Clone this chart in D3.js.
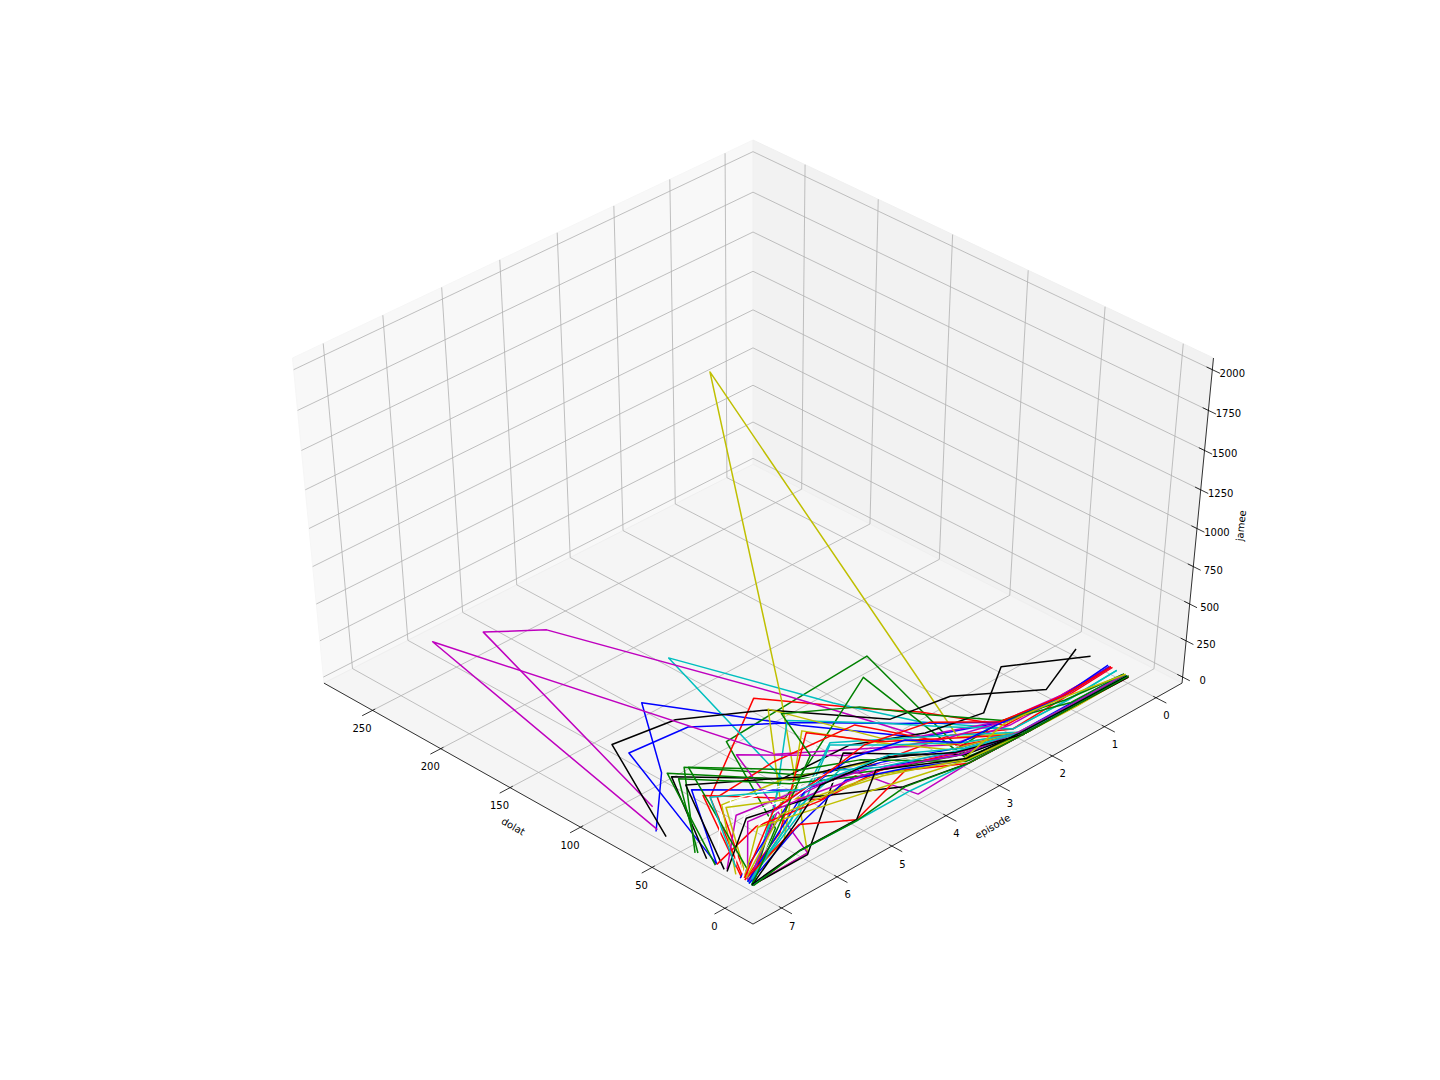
<!DOCTYPE html>
<html><head><meta charset="utf-8"><style>html,body{margin:0;background:#fff}svg{display:block}text{font-family:"DejaVu Sans";font-size:10px;fill:#000}</style>
<script src="https://cdn.jsdelivr.net/npm/d3@7"></script></head><body><svg id="c" width="1440" height="1080"></svg>
<script>
const episodeTicks=[0,1,2,3,4,5,6,7];
const dolatTicks=[0,50,100,150,200,250];
const jameeTicks=[0,250,500,750,1000,1250,1500,1750,2000];
const seriesColorKeys="bgrcmykwbgrcmykwbgrcmykwbgrcmykwbgrcmykwbgrcmykgrcykg".split("");
const dolatSeries=[
[13,10,15,35,81,155,102,67],[2,1,1,3,37,95,23,1],[12,11,13,36,41,76,68,7],[8,6,8,36,59,135,19,1],[13,11,15,35,91,223,228,69],[1,1,3,10,143,57,1,1],[36,21,51,56,104,131,137,60],[0,1,3,8,26,33,10,3],
[14,11,13,50,81,122,125,25],[2,1,1,2,39,44,24,1],[11,8,8,15,33,29,73,8],[8,7,8,19,27,53,24,3],[12,10,10,15,27,61,267,66],[1,1,3,15,27,66,17,3],[26,52,28,32,47,56,95,32],[1,2,3,11,26,50,60,25],
[4,4,4,11,26,42,81,25],[3,4,15,15,26,44,86,40],[0,0,1,8,44,63,63,5],[3,3,4,9,13,24,13,4],[12,10,15,18,50,88,1,1],[1,2,4,15,27,43,17,4],[0,1,2,5,13,15,1,1],[1,1,3,8,26,37,44,13],
[1,1,3,8,19,24,13,9],[2,3,3,11,30,51,98,26],[0,1,1,12,27,40,20,6],[1,2,3,5,20,24,7,3],[1,1,1,2,0,10,20,3],[2,2,3,11,26,56,60,12],[1,2,3,8,26,44,85,20],[1,2,3,8,23,41,54,6],
[13,11,16,8,10,10,3,4],[2,2,2,6,26,51,90,38],[1,1,3,8,26,30,36,25],[0,1,1,2,5,5,6,1],[1,2,3,8,26,44,50,18],[1,1,1,5,26,30,57,5],[0,1,1,2,10,35,43,18],[0,1,2,9,23,27,34,8],
[1,1,1,4,9,13,10,3],[2,2,2,4,40,44,83,4],[0,1,1,2,9,5,7,6],[1,1,3,8,26,17,7,1],[3,3,4,8,23,37,42,4],[0,0,1,5,15,25,35,6],[0,1,1,11,23,30,10,1],
[3,8,15,32,41,57,0,1],[12,9,17,29,37,27,24,6],[1,2,3,5,20,44,68,12],[2,9,14,6,24,17,20,5],[1,2,3,4,29,5,6,1],[0,1,1,2,9,5,6,0]];
const jameeSeries=[
[9,16,12,0,42,8,10,4],[4,1,0,39,744,58,60,1],[12,16,0,172,375,456,26,18],[6,10,1,104,313,421,428,11],[2,16,19,9,194,159,313,164],[7,1,0,138,2030,547,12,1],[10,4,0,16,27,18,17,8],[8,1,0,91,96,391,327,17],
[12,2,20,18,62,15,23,11],[4,1,0,19,592,90,150,4],[12,20,1,124,25,16,11,14],[6,3,0,160,347,428,164,3],[6,16,17,56,177,155,46,22],[7,1,0,56,245,436,84,17],[11,1,6,48,89,12,21,10],[4,0,0,39,27,0,7,0],
[0,0,0,53,82,8,6,11],[7,4,22,0,62,104,136,6],[8,5,6,91,243,86,54,33],[1,0,0,159,317,432,158,9],[6,9,12,85,0,5,12,1],[7,0,0,22,211,411,15,23],[8,0,0,42,210,411,0,1],[4,0,0,44,62,37,35,56],
[7,1,0,24,99,249,308,6],[4,0,0,0,0,32,29,0],[8,0,0,120,218,415,44,11],[7,0,0,129,234,418,244,17],[4,0,0,0,3,322,238,17],[4,1,0,26,96,5,17,15],[4,0,0,44,109,90,18,4],[7,0,0,57,114,88,83,11],
[2,0,0,111,322,403,432,9],[4,0,0,0,0,4,34,17],[4,1,0,44,27,0,0,11],[8,0,0,0,1,0,0,1],[1,0,0,44,62,0,0,16],[4,1,6,0,0,41,15,40],[8,0,0,0,0,0,18,1],[8,1,0,50,80,197,24,0],
[4,0,0,8,133,236,122,3],[0,0,0,0,23,138,152,93],[1,0,0,0,120,7,175,11],[4,0,0,57,48,285,298,43],[1,0,0,24,60,3,0,23],[8,0,0,0,0,0,0,25],[1,0,0,26,135,109,156,1],
[7,0,22,176,382,453,683,1],[9,26,3,139,144,197,184,25],[7,0,0,89,166,0,26,64],[11,13,6,1,0,149,169,29],[4,0,0,21,10,7,2,8],[8,0,0,0,4,0,0,5]];

const lineColors={b:"#0000ff",g:"#008000",r:"#ff0000",c:"#00bfbf",m:"#bf00bf",y:"#bfbf00",k:"#000000",w:"#ffffff"};
const epScale=d3.scaleLinear().domain([-0.51,7.51]).range([-.5,.5]);
const dolatScale=d3.scaleLinear().domain([-19.1,286.1]).range([.5,-.5]);
const jameeScale=d3.scaleLinear().domain([-42,2071]).range([-.5,.5]);
function projectBox(p,q,w){
  const xv=.7071*(q-p),yv=-.5*(p+q)+.7071*w,d=10-.5*(p+q)-.7071*w;
  return [753+6282*xv/d,526.3-4592*yv/d];
}
const project=(e,dl,j)=>projectBox(epScale(e),dolatScale(dl),jameeScale(j));
const svg=d3.select("#c"),line=d3.line();
const path=pts=>line(pts.map(a=>projectBox(...a)));
const gp=svg.append("g").attr("stroke-width",1);
gp.append("path").attr("d",path([[.5,-.5,-.5],[-.5,-.5,-.5],[-.5,-.5,.5],[.5,-.5,.5]])+"Z").attr("fill","#f8f8f8").attr("stroke","#f6f6f6");
gp.append("path").attr("d",path([[-.5,-.5,-.5],[-.5,.5,-.5],[-.5,.5,.5],[-.5,-.5,.5]])+"Z").attr("fill","#f2f2f2").attr("stroke","#f0f0f0");
gp.append("path").attr("d",path([[-.5,.5,-.5],[.5,.5,-.5],[.5,-.5,-.5],[-.5,-.5,-.5]])+"Z").attr("fill","#f5f5f5").attr("stroke","#efefef");
const grid=svg.append("g").attr("fill","none").attr("stroke","#b0b0b0").attr("stroke-width",.8);
const axes=svg.append("g").attr("fill","none").attr("stroke","#000").attr("stroke-width",.8);
const labels=svg.append("g").attr("text-anchor","middle");
episodeTicks.forEach(t=>{const p=epScale(t);
  grid.append("path").attr("d",path([[p,.5,-.5],[p,-.5,-.5],[p,-.5,.5]]));
  axes.append("path").attr("d",path([[p,.494,-.5],[p,.523,-.5]]));
  const a=projectBox(p,.5,-.5);
  labels.append("text").attr("x",a[0]+10.5).attr("y",a[1]+21.5).text(t);
});
dolatTicks.forEach(t=>{const q=dolatScale(t);
  grid.append("path").attr("d",path([[.5,q,-.5],[-.5,q,-.5],[-.5,q,.5]]));
  axes.append("path").attr("d",path([[.494,q,-.5],[.523,q,-.5]]));
  const a=projectBox(.5,q,-.5);
  labels.append("text").attr("x",a[0]-10.5).attr("y",a[1]+21.5).text(t);
});
jameeTicks.forEach(t=>{const w=jameeScale(t);
  grid.append("path").attr("d",path([[.5,-.5,w],[-.5,-.5,w],[-.5,.5,w]]));
  axes.append("path").attr("d",path([[-.5,.488,w],[-.5,.516,w]]));
  const a=projectBox(-.5,.5,w);
  labels.append("text").attr("x",a[0]+20).attr("y",a[1]+7).text(t);
});
axes.append("path").attr("d",path([[.5,-.5,-.5],[.5,.5,-.5],[-.5,.5,-.5],[-.5,.5,.5]]));
const series=svg.append("g").attr("fill","none").attr("stroke-width",1.5).attr("stroke-linejoin","round");
series.selectAll("path").data(dolatSeries).join("path")
  .attr("stroke",(d,i)=>lineColors[seriesColorKeys[i]])
  .attr("d",(d,i)=>line(d.map((dv,k)=>project(episodeTicks[k],dv,jameeSeries[i][k]))));
labels.append("text").attr("transform","translate(511.5,829.5) rotate(30)").text("dolat");
labels.append("text").attr("transform","translate(994.5,829.5) rotate(-30)").text("episode");
labels.append("text").attr("transform","translate(1244.5,526) rotate(-84.5)").text("jamee");
</script></body></html>
